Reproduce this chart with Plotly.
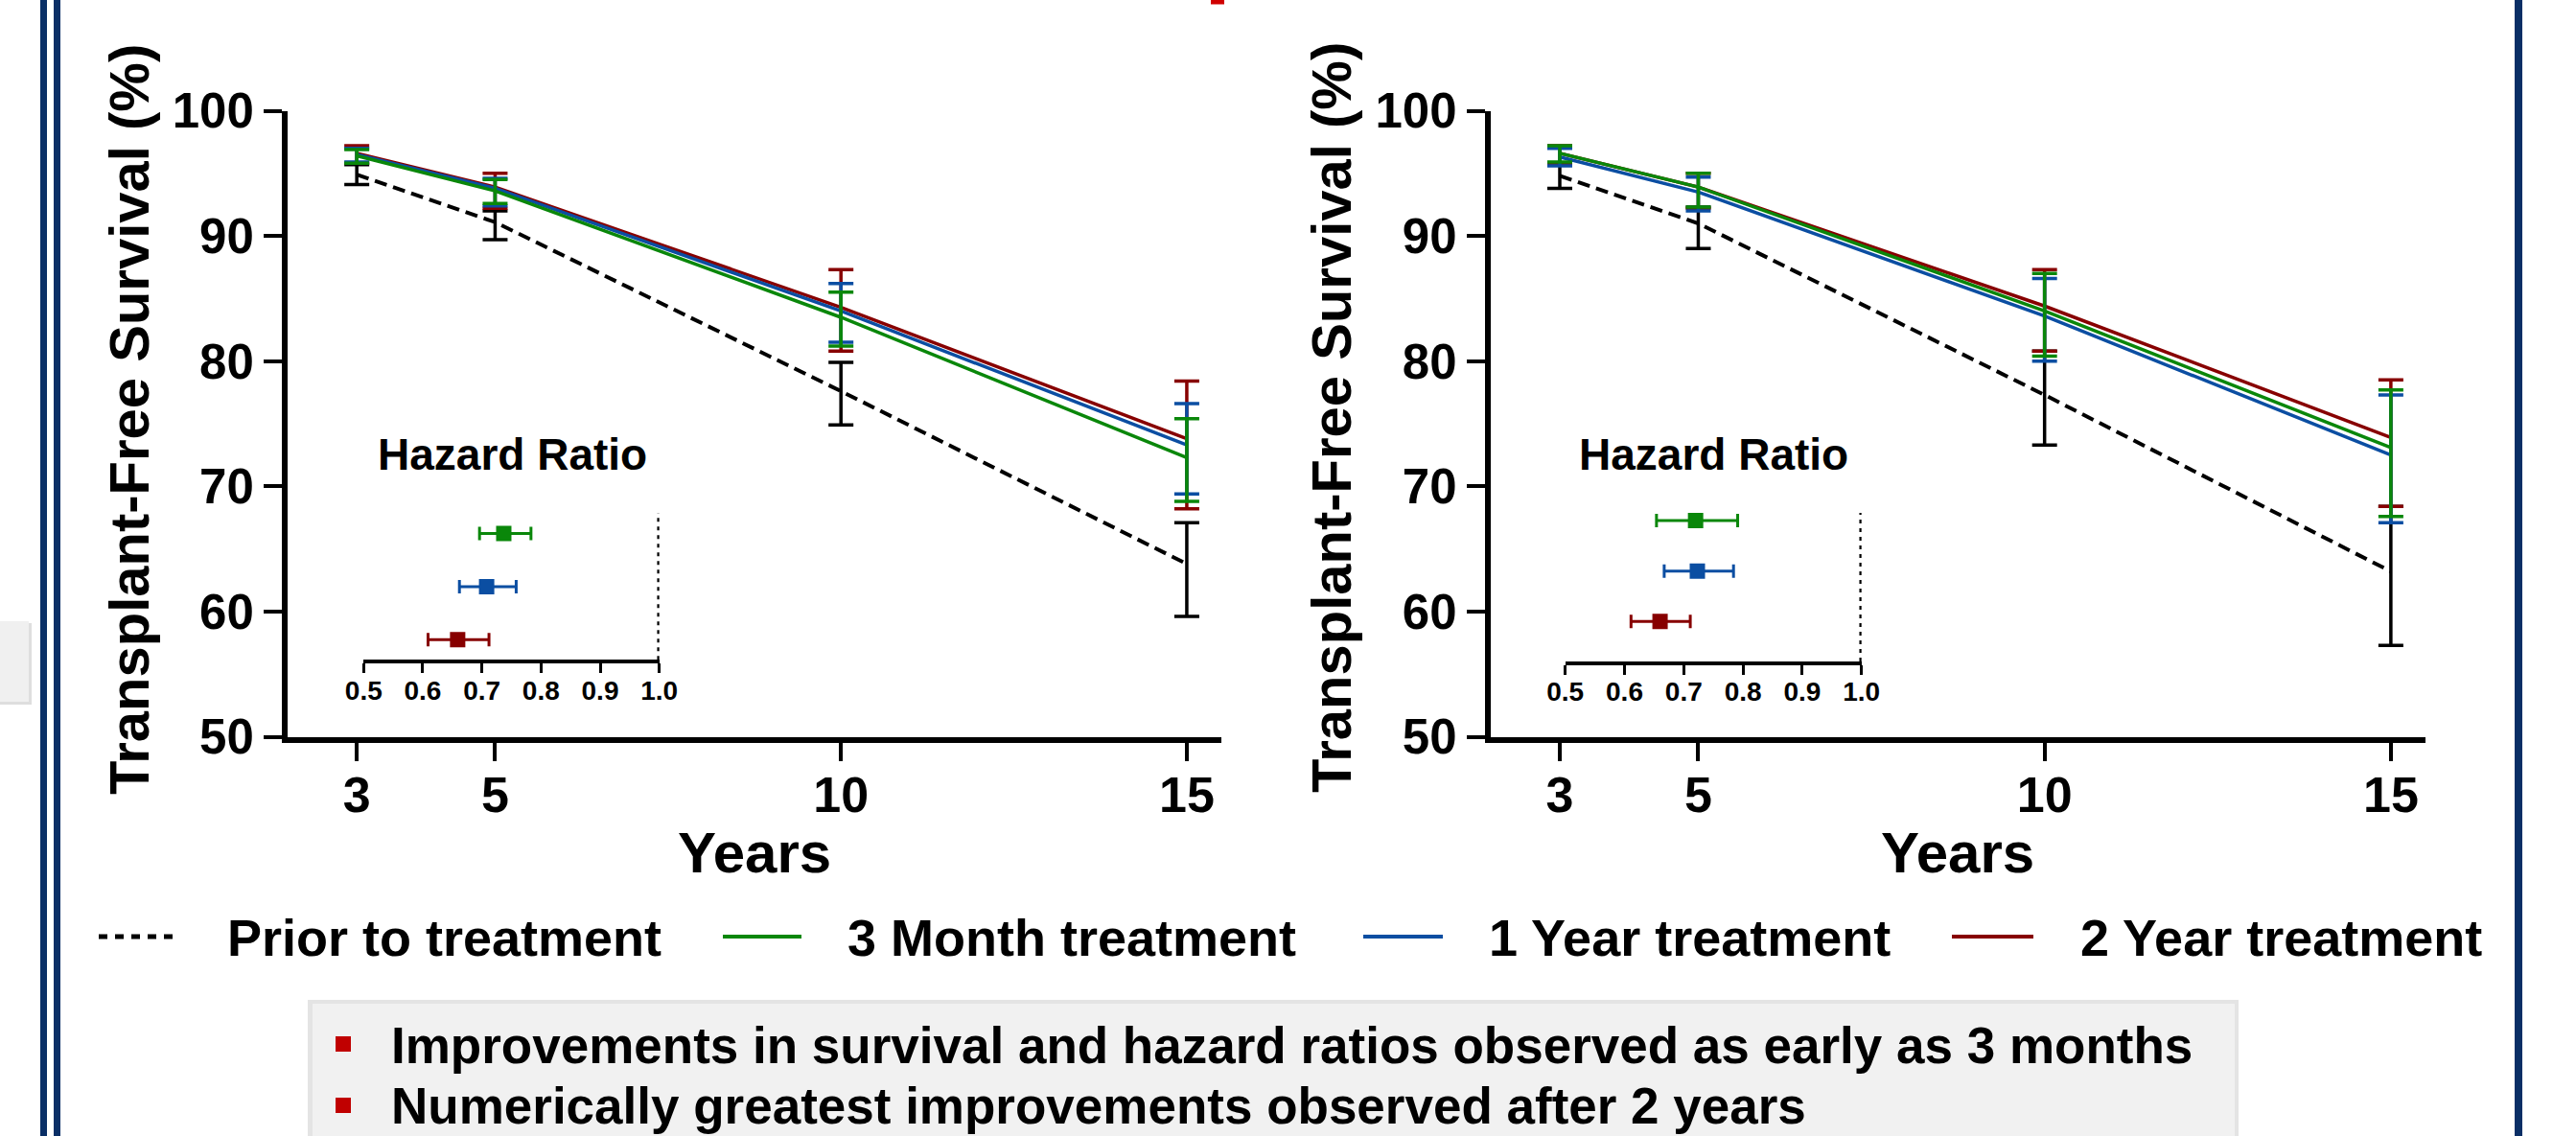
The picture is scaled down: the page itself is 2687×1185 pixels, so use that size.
import plotly.graph_objects as go

W, H = 2687, 1185

# ---------------- data ----------------
years = [3, 5, 10, 15]
year_ticks = ["3", "5", "10", "15"]
series_names = ["Prior to treatment", "3 Month treatment", "1 Year treatment", "2 Year treatment"]
series_colors = ["#000000", "#0a870a", "#0b4ea2", "#870000"]

# Left panel: transplant-free survival (%) — mean, upper CI, lower CI
left_prior_mean = [94.9, 91.1, 77.6, 63.8]
left_prior_upper = [95.7, 92.0, 79.9, 67.1]
left_prior_lower = [94.1, 89.7, 74.9, 59.6]

left_3m_mean = [96.4, 93.6, 83.5, 72.3]
left_3m_upper = [96.9, 94.5, 85.5, 75.4]
left_3m_lower = [95.8, 92.6, 81.2, 68.8]

left_1y_mean = [96.5, 93.8, 84.0, 73.3]
left_1y_upper = [97.0, 94.6, 86.2, 76.6]
left_1y_lower = [95.9, 92.4, 81.5, 69.4]

left_2y_mean = [96.6, 93.9, 84.3, 73.8]
left_2y_upper = [97.2, 95.0, 87.3, 78.4]
left_2y_lower = [95.8, 92.2, 80.8, 68.2]

# Right panel
right_prior_mean = [94.8, 91.0, 77.3, 63.2]
right_prior_upper = [95.7, 92.3, 80.8, 68.4]
right_prior_lower = [93.8, 89.0, 73.3, 57.3]

right_3m_mean = [96.6, 93.9, 84.0, 73.1]
right_3m_upper = [97.2, 95.0, 87.0, 77.7]
right_3m_lower = [95.9, 92.3, 80.4, 67.6]

right_1y_mean = [96.3, 93.5, 83.6, 72.5]
right_1y_upper = [97.0, 94.7, 86.6, 77.3]
right_1y_lower = [95.6, 92.0, 80.0, 67.1]

right_2y_mean = [96.6, 93.9, 84.4, 73.9]
right_2y_upper = [97.2, 95.0, 87.3, 78.5]
right_2y_lower = [95.8, 92.2, 80.8, 68.4]

# Hazard ratios (3 Month, 1 Year, 2 Year)
hr_labels = ["3 Month treatment", "1 Year treatment", "2 Year treatment"]
left_hr_est = [0.737, 0.708, 0.659]
left_hr_low = [0.696, 0.662, 0.609]
left_hr_high = [0.783, 0.758, 0.712]
right_hr_est = [0.720, 0.723, 0.660]
right_hr_low = [0.654, 0.667, 0.611]
right_hr_high = [0.791, 0.784, 0.711]
hr_ticks = [0.5, 0.6, 0.7, 0.8, 0.9, 1.0]

bullets = [
    "Improvements in survival and hazard ratios observed as early as 3 months",
    "Numerically greatest improvements observed after 2 years",
]

# ---------------- helpers ----------------
FONT = "Arial, 'Liberation Sans', sans-serif"


def px(x):
    return x / W


def py(y):
    return 1 - y / H


def bold(size, color="#000000"):
    return dict(family=FONT, size=size, color=color, weight="bold")


fig = go.Figure()

panels = [
    ("x", "y", [
        (left_prior_mean, left_prior_upper, left_prior_lower),
        (left_3m_mean, left_3m_upper, left_3m_lower),
        (left_1y_mean, left_1y_upper, left_1y_lower),
        (left_2y_mean, left_2y_upper, left_2y_lower),
    ]),
    ("x2", "y2", [
        (right_prior_mean, right_prior_upper, right_prior_lower),
        (right_3m_mean, right_3m_upper, right_3m_lower),
        (right_1y_mean, right_1y_upper, right_1y_lower),
        (right_2y_mean, right_2y_upper, right_2y_lower),
    ]),
]

draw_order = [0, 3, 2, 1]
for xa, ya, data in panels:
    for i in draw_order:
        mean, up, lo = data[i]
        fig.add_trace(go.Scatter(
            x=years, y=mean, mode="lines", name=series_names[i],
            xaxis=xa, yaxis=ya, showlegend=False,
            line=dict(color=series_colors[i], width=4 if i == 0 else 3.5,
                      dash="13px,7px" if i == 0 else "solid"),
            error_y=dict(type="data", symmetric=False,
                         array=[u - m for u, m in zip(up, mean)],
                         arrayminus=[m - l for m, l in zip(mean, lo)],
                         color=series_colors[i], thickness=3.5, width=13),
        ))

hr_panels = [
    ("x3", "y3", left_hr_est, left_hr_low, left_hr_high),
    ("x4", "y4", right_hr_est, right_hr_low, right_hr_high),
]
for xa, ya, est, low, high in hr_panels:
    for k in range(3):
        c = series_colors[k + 1]
        fig.add_trace(go.Scatter(
            x=[est[k]], y=[hr_labels[k]], mode="markers", xaxis=xa, yaxis=ya,
            showlegend=False, name=hr_labels[k],
            marker=dict(symbol="square", size=16, color=c),
            error_x=dict(type="data", symmetric=False,
                         array=[high[k] - est[k]], arrayminus=[est[k] - low[k]],
                         color=c, thickness=3, width=7),
        ))

main_x = dict(range=[2, 15.5], tickvals=years, ticktext=year_ticks,
              showline=True, linecolor="black", linewidth=6,
              ticks="outside", ticklen=19, tickwidth=4, tickcolor="black",
              showgrid=False, zeroline=False, tickfont=bold(52),
              ticklabelstandoff=-9, automargin=False)
main_y = dict(range=[50, 100], tickvals=[50, 60, 70, 80, 90, 100],
              showline=True, linecolor="black", linewidth=6,
              ticks="outside", ticklen=19, tickwidth=4, tickcolor="black",
              showgrid=False, zeroline=False, tickfont=bold(51),
              ticklabelstandoff=0, automargin=False)
ins_x = dict(range=[0.5, 1.0], tickvals=hr_ticks, tickformat=".1f",
             showline=True, linecolor="black", linewidth=3.5,
             ticks="outside", ticklen=10, tickwidth=3, tickcolor="black",
             showgrid=False, zeroline=False, tickfont=bold(28),
             ticklabelstandoff=-6, automargin=False)
cat_order = ["2 Year treatment", "1 Year treatment", "3 Month treatment"]

fig.update_layout(
    template="none",
    width=W, height=H,
    margin=dict(l=0, r=0, t=0, b=0, pad=0, autoexpand=False),
    paper_bgcolor="white", plot_bgcolor="rgba(0,0,0,0)",
    showlegend=False,
    xaxis=dict(domain=[px(300), px(1274)], anchor="y", **main_x),
    yaxis=dict(domain=[py(768.5), py(115.5)], anchor="x", **main_y),
    xaxis2=dict(domain=[px(1554.75), px(2530)], anchor="y2", **main_x),
    yaxis2=dict(domain=[py(768.5), py(115.5)], anchor="x2", **main_y),
    xaxis3=dict(domain=[px(379.3), px(687.7)], anchor="y3", **ins_x),
    yaxis3=dict(domain=[py(688.3), py(535)], anchor="x3", type="category",
                categoryorder="array", categoryarray=cat_order,
                range=[-0.38, 2.39], visible=False, automargin=False),
    xaxis4=dict(domain=[px(1632.7), px(1941.7)], anchor="y4", **ins_x),
    yaxis4=dict(domain=[py(690), py(535)], anchor="x4", type="category",
                categoryorder="array", categoryarray=cat_order,
                range=[-0.79, 2.15], visible=False, automargin=False),
)

shapes = []
# HR = 1 reference lines
for xr, yr in [("x3", "y3"), ("x4", "y4")]:
    shapes.append(dict(type="line", xref=xr, yref=yr + " domain", x0=1.0, x1=1.0,
                       y0=0, y1=1, line=dict(color="black", width=4.5, dash="4px,5px")))

navy = "#0a2f66"
# frame lines
for x0, x1 in [(42, 49), (56, 63), (2623, 2631)]:
    shapes.append(dict(type="rect", xref="paper", yref="paper", x0=px(x0), x1=px(x1),
                       y0=0, y1=1, fillcolor=navy, line=dict(width=0), layer="below"))
# small red title fragment at top
shapes.append(dict(type="rect", xref="paper", yref="paper", x0=px(1263), x1=px(1277),
                   y0=py(4.5), y1=1, fillcolor="#d00000", line=dict(width=0)))
# left grey fragment box with shadow
shapes.append(dict(type="rect", xref="paper", yref="paper", x0=px(-10), x1=px(33),
                   y0=py(735), y1=py(650), fillcolor="#c8c8c8", line=dict(width=0),
                   opacity=0.6, layer="below"))
shapes.append(dict(type="rect", xref="paper", yref="paper", x0=px(-10), x1=px(30),
                   y0=py(732), y1=py(648), fillcolor="#f0f0f0", line=dict(width=0),
                   layer="below"))
# bullet box with shadow
shapes.append(dict(type="rect", xref="paper", yref="paper", x0=px(321), x1=px(2335),
                   y0=py(1200), y1=py(1043), fillcolor="#d8d8d8", line=dict(width=0),
                   opacity=0.7, layer="below"))
shapes.append(dict(type="rect", xref="paper", yref="paper", x0=px(326), x1=px(2331),
                   y0=py(1200), y1=py(1047), fillcolor="#f1f1f1", line=dict(width=0),
                   layer="below"))
for yc in [1089, 1153]:
    shapes.append(dict(type="rect", xref="paper", yref="paper", x0=px(350), x1=px(366),
                       y0=py(yc + 8), y1=py(yc - 8), fillcolor="#c00000", line=dict(width=0)))

# manual legend symbols
legend_sym = [(103, 188), (754, 836), (1422, 1505), (2036, 2121)]
legend_txt_x = [235, 882, 1551, 2168]
for i, (a, b) in enumerate(legend_sym):
    shapes.append(dict(type="line", xref="paper", yref="paper", x0=px(a), x1=px(b),
                       y0=py(977), y1=py(977),
                       line=dict(color=series_colors[i], width=5 if i == 0 else 4,
                                 dash="9px,8px" if i == 0 else "solid")))

annotations = []
for xc, yc in [(135, 438), (1388, 436)]:
    annotations.append(dict(text="Transplant-Free Survival (%)", x=px(xc), y=py(yc),
                            xref="paper", yref="paper", showarrow=False, textangle=-90,
                            xanchor="center", yanchor="middle", font=bold(58)))
for xc in [787, 2042]:
    annotations.append(dict(text="Years", x=px(xc), y=py(889), xref="paper", yref="paper",
                            showarrow=False, xanchor="center", yanchor="middle", font=bold(60)))
for xc in [534, 1787.5]:
    annotations.append(dict(text="Hazard Ratio", x=px(xc), y=py(474), xref="paper",
                            yref="paper", showarrow=False, xanchor="center",
                            yanchor="middle", font=bold(46)))
for i, xt in enumerate(legend_txt_x):
    annotations.append(dict(text=series_names[i], x=px(xt), y=py(978), xref="paper",
                            yref="paper", showarrow=False, xanchor="left",
                            yanchor="middle", font=bold(54)))
for txt, yc in zip(bullets, [1090, 1153]):
    annotations.append(dict(text=txt, x=px(406), y=py(yc), xref="paper", yref="paper",
                            showarrow=False, xanchor="left", yanchor="middle",
                            font=bold(53)))

fig.update_layout(shapes=shapes, annotations=annotations)

fig.write_html("out.html")
